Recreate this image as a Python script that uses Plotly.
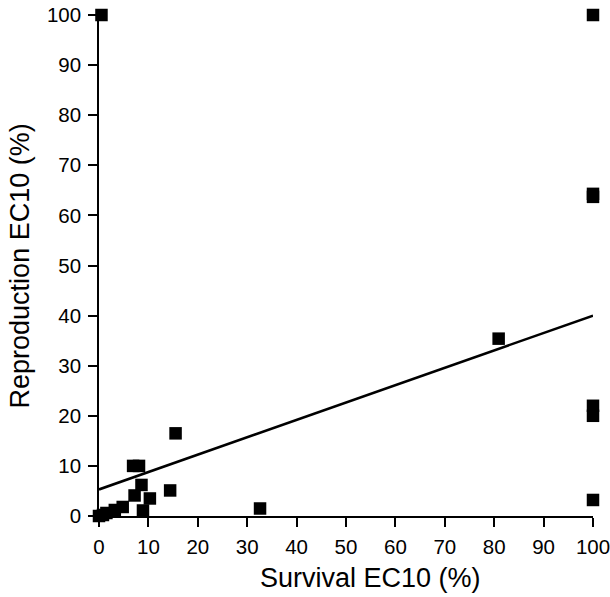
import plotly.graph_objects as go

# Survival EC10 (%) vs Reproduction EC10 (%)
survival_ec10 = [0.5, 100, 100, 100, 100, 100, 100, 80.9, 32.6, 15.5, 6.9, 8.1, 8.6, 7.2,
                 14.4, 10.3, 8.9, 0.0, 0.8, 1.5, 3.2, 4.8]
reproduction_ec10 = [100, 100, 64.3, 63.7, 22.0, 20.0, 3.2, 35.4, 1.5, 16.5, 10.0, 10.0, 6.2, 4.1,
                     5.1, 3.5, 1.1, 0.0, 0.2, 0.6, 1.2, 1.8]

# regression line end points
fit_x = [0, 100]
fit_y = [5.3, 40.0]

x_ticks = [0, 10, 20, 30, 40, 50, 60, 70, 80, 90, 100]
y_ticks = [0, 10, 20, 30, 40, 50, 60, 70, 80, 90, 100]

fig = go.Figure()
fig.add_trace(go.Scatter(
    x=fit_x, y=fit_y, mode="lines",
    line=dict(color="black", width=2.5),
    showlegend=False, hoverinfo="skip", cliponaxis=False,
))
fig.add_trace(go.Scatter(
    x=survival_ec10, y=reproduction_ec10, mode="markers",
    marker=dict(symbol="square", size=12.5, color="black", line=dict(width=0)),
    showlegend=False, cliponaxis=False,
))

font_family = "Liberation Sans, Arial, sans-serif"
axis_common = dict(
    showgrid=False, zeroline=False, showline=True, linecolor="black", linewidth=1.5,
    ticks="outside", ticklen=9, tickwidth=1.5, tickcolor="black", automargin=False,
    ticklabeloverflow="allow",
    tickfont=dict(family=font_family, size=20.5, color="black"),
)

fig.update_layout(
    width=610, height=597, autosize=False,
    margin=dict(l=99, r=17, t=15, b=81, pad=0, autoexpand=False),
    plot_bgcolor="white", paper_bgcolor="white",
    xaxis=dict(range=[0, 100], tickvals=x_ticks, ticklabelstandoff=3, **axis_common),
    yaxis=dict(range=[0, 100], tickvals=y_ticks, ticklabelstandoff=3, **axis_common),
    annotations=[
        dict(text="Survival EC10 (%)", xref="paper", yref="paper",
             x=0.5506, y=-0.1238, xanchor="center", yanchor="middle", showarrow=False,
             font=dict(family=font_family, size=27, color="black")),
        dict(text="Reproduction EC10 (%)", xref="paper", yref="paper",
             x=-0.16, y=0.5, xanchor="center", yanchor="middle", showarrow=False,
             textangle=-90,
             font=dict(family=font_family, size=27, color="black")),
    ],
)

# remove the default page margin so the 610x597 figure fills the window
fig.write_html(
    "out.html",
    config={"responsive": False, "displayModeBar": False},
    post_script="document.body.style.margin='0';document.body.style.overflow='hidden';",
)
